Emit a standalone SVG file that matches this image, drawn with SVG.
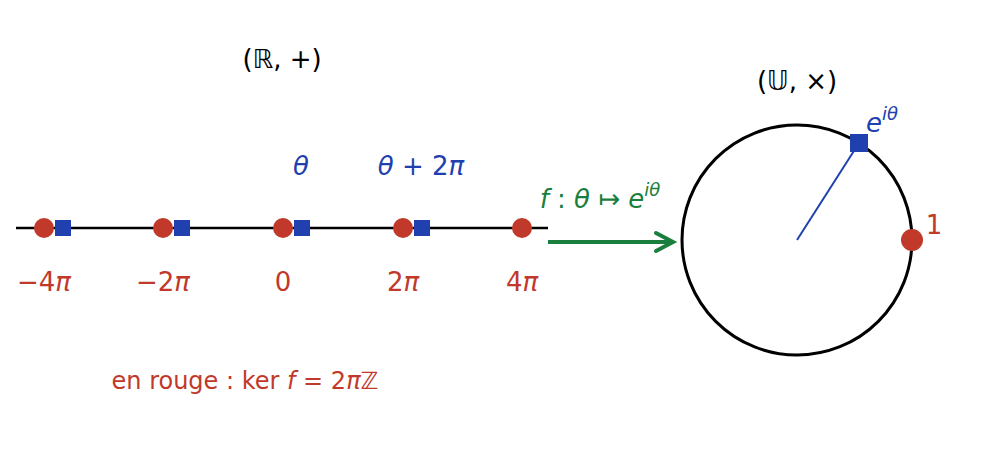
<svg xmlns="http://www.w3.org/2000/svg" width="984" height="457" viewBox="0 0 984 457">
<style>
text{font-family:"DejaVu Sans",sans-serif;font-size:26px;text-anchor:middle}
.r{fill:#c0392b}.b{fill:#2040b0}.g{fill:#1a7f3c}.k{fill:#000}
.i{font-style:italic}
</style>
<defs><marker id="ah" markerWidth="10" markerHeight="10" refX="8" refY="5" orient="auto" markerUnits="userSpaceOnUse"><path d="M1,-2 L9,5 L1,12" fill="none" stroke="#1a7f3c" stroke-width="3.5" transform="translate(0,0) scale(1,1)"/></marker></defs>
<rect width="984" height="457" fill="#fff"/>
<g id="connectors">
<line x1="16" y1="228" x2="548" y2="228" stroke="#000" stroke-width="2.5"/>
<line x1="548" y1="242" x2="672" y2="242" stroke="#1a7f3c" stroke-width="4"/>
<path d="M656,233 L673,242 L656,251" fill="none" stroke="#1a7f3c" stroke-width="4" stroke-linecap="round"/>
<line x1="797" y1="240" x2="859" y2="143" stroke="#2040b0" stroke-width="2"/>
</g>
<g id="points">
<circle cx="44" cy="228" r="10" fill="#c0392b"/><rect x="55" y="220" width="16" height="16" fill="#2040b0"/>
<circle cx="163" cy="228" r="10" fill="#c0392b"/><rect x="174" y="220" width="16" height="16" fill="#2040b0"/>
<circle cx="283" cy="228" r="10" fill="#c0392b"/><rect x="294" y="220" width="16" height="16" fill="#2040b0"/>
<circle cx="403" cy="228" r="10" fill="#c0392b"/><rect x="414" y="220" width="16" height="16" fill="#2040b0"/>
<circle cx="522" cy="228" r="10" fill="#c0392b"/>
</g>
<g id="circle">
<circle cx="797" cy="240" r="115" fill="none" stroke="#000" stroke-width="3"/>
<circle cx="912" cy="240" r="11" fill="#c0392b"/>
<rect x="850" y="134" width="18" height="18" fill="#2040b0"/>
</g>
<g id="labels">
<text x="282" y="68" class="k">(ℝ, +)</text>
<text x="797" y="90" class="k">(𝕌, ×)</text>
<text x="301" y="175" class="b i">θ</text>
<text x="421" y="175" class="b"><tspan class="i">θ</tspan> + 2<tspan class="i">π</tspan></text>
<text x="44" y="291" class="r">−4<tspan class="i">π</tspan></text>
<text x="163" y="291" class="r">−2<tspan class="i">π</tspan></text>
<text x="283" y="291" class="r">0</text>
<text x="403" y="291" class="r">2<tspan class="i">π</tspan></text>
<text x="522" y="291" class="r">4<tspan class="i">π</tspan></text>
<text x="600" y="208" class="g"><tspan class="i">f</tspan> : <tspan class="i">θ</tspan> ↦ <tspan class="i">e</tspan><tspan class="i" font-size="18" dy="-12">iθ</tspan></text>
<text x="882" y="132" class="b"><tspan class="i">e</tspan><tspan class="i" font-size="18" dy="-12">iθ</tspan></text>
<text x="934" y="234" class="r">1</text>
<text x="245" y="389" class="r" style="font-size:24px">en rouge : ker <tspan class="i">f</tspan> = 2<tspan class="i">π</tspan>ℤ</text>
</g>
</svg>
